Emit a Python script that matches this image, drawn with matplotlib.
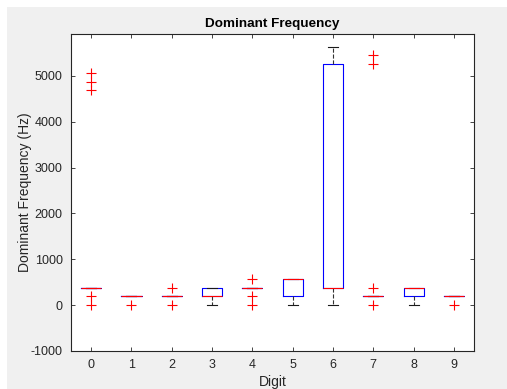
import matplotlib
matplotlib.use('Agg')
import matplotlib.pyplot as plt
from matplotlib.patches import Rectangle

# summary stats per digit (Hz)
digits = [0, 1, 2, 3, 4, 5, 6, 7, 8, 9]
med = [377, 188, 188, 188, 377, 565, 377, 188, 377, 188]
q1 = [377, 188, 188, 188, 377, 188, 377, 188, 188, 188]
q3 = [377, 188, 188, 377, 377, 565, 5260, 188, 377, 188]
whislo = [377, 188, 188, 0, 377, 0, 0, 188, 0, 188]
whishi = [377, 188, 188, 377, 377, 565, 5630, 188, 377, 188]
fliers = [
    [5060, 4870, 4690, 188, 0],
    [0],
    [377, 0],
    [],
    [565, 188, 0],
    [],
    [],
    [5450, 5260, 377, 0],
    [],
    [0],
]

plt.rcParams['font.family'] = ['Liberation Sans', 'DejaVu Sans']
plt.rcParams['axes.unicode_minus'] = False

fig = plt.figure(figsize=(5.07, 3.89), dpi=100, facecolor='#f0f0f0')

# white strips along top and left edge (window border in the screenshot)
fig.patches.append(Rectangle((0, 1 - 7 / 389), 1, 7 / 389, transform=fig.transFigure,
                             facecolor='white', edgecolor='none', zorder=-1))
fig.patches.append(Rectangle((0, 0), 7 / 507, 1, transform=fig.transFigure,
                             facecolor='white', edgecolor='none', zorder=-1))

ax = fig.add_axes([0.140, 0.098, 0.795, 0.815])

stats = []
for i in range(len(digits)):
    stats.append(dict(med=med[i], q1=q1[i], q3=q3[i], whislo=whislo[i],
                      whishi=whishi[i], fliers=fliers[i]))

ax.bxp(stats, positions=digits, widths=0.5, capwidths=0.25,
       boxprops=dict(color='blue', lw=0.8),
       medianprops=dict(color='red', lw=0.8),
       whiskerprops=dict(color='0.2', lw=0.8, linestyle='--'),
       capprops=dict(color='0.1', lw=0.8),
       flierprops=dict(marker='+', markeredgecolor='red', markersize=7,
                       markeredgewidth=0.8, linestyle='none'),
       showfliers=True)

ax.set_xlim(-0.5, 9.5)
ax.set_ylim(-1000, 5920)
ax.set_xticks(digits)
ax.set_xticklabels([str(d) for d in digits])
ax.set_yticks(range(-1000, 5001, 1000))

for s in ax.spines.values():
    s.set_color('#262626')
    s.set_linewidth(0.8)
ax.tick_params(direction='in', top=True, right=True, labelsize=9,
               colors='#262626', length=3, width=0.6, pad=6)

ax.set_title('Dominant Frequency', fontsize=9.7, fontweight='bold', pad=5)
ax.set_xlabel('Digit', fontsize=10, color='#262626', labelpad=3)
ax.set_ylabel('Dominant Frequency (Hz)', fontsize=10, color='#262626', labelpad=-1)

fig.savefig('out.png', dpi=100, facecolor=fig.get_facecolor())
